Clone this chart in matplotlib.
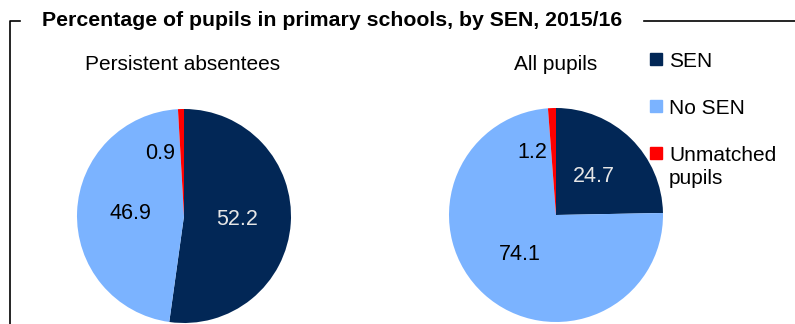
import matplotlib
matplotlib.use('Agg')
import matplotlib.pyplot as plt
from matplotlib.lines import Line2D
from matplotlib.patches import Rectangle
import numpy as np

plt.rcParams['font.family'] = ['Liberation Sans', 'DejaVu Sans']

# shares of pupils by SEN status (%)
categories = ['SEN', 'No SEN', 'Unmatched\npupils']
groups = ['Persistent absentees', 'All pupils']
absentees = [52.2, 46.9, 0.9]
all_pupils = [24.7, 74.1, 1.2]
colours = ['#022756', '#7BB3FF', '#FF0000']
label_colours = ['#E6E6E6', 'black', 'black']

W, H = 795, 324
fig = plt.figure(figsize=(W / 100, H / 100), dpi=100)


def px_axes(cx, cy, r):
    # square axes centred at pixel (cx, cy) with radius r
    return fig.add_axes([(cx - r) / W, 1 - (cy + r) / H, 2 * r / W, 2 * r / H])


def draw_pie(ax, values, subtitle, cx):
    wedges, texts, autotexts = ax.pie(
        values, colors=colours, startangle=90, counterclock=False,
        autopct=lambda p: '', pctdistance=0.5, radius=1.0,
        wedgeprops=dict(linewidth=0))
    ax.set_xlim(-1, 1)
    ax.set_ylim(-1, 1)
    ax.set_aspect('equal')
    for v, t, c in zip(values, autotexts, label_colours):
        t.set_text(f'{v:.1f}')
        t.set_color(c)
        t.set_fontsize(15.5)
    # the small slice label sits up and left of its wedge
    ang = np.deg2rad(111)
    autotexts[2].set_position((0.63 * np.cos(ang), 0.63 * np.sin(ang)))
    fig.text(cx / W, 1 - 65 / H, subtitle, ha='center', va='center', fontsize=15)
    return wedges


ax1 = px_axes(184, 216, 107)
wedges = draw_pie(ax1, absentees, groups[0], 183)
ax2 = px_axes(556, 215, 107)
draw_pie(ax2, all_pupils, groups[1], 556)

# title with bracket rule
fig.text(42 / W, 1 - 20 / H, 'Percentage of pupils in primary schools, by SEN, 2015/16',
         ha='left', va='center', fontsize=15.3, fontweight='bold')
fig.add_artist(Line2D([644 / W, 1.0], [1 - 21 / H] * 2, color='black', lw=1.2))
fig.add_artist(Line2D([10 / W, 10 / W, 20 / W], [0, 1 - 21 / H, 1 - 21 / H],
                      color='black', lw=1.2))

# legend
for name, col, y in zip(categories, colours, [59, 106, 153]):
    fig.add_artist(Rectangle((650 / W, 1 - (y + 6) / H), 12 / W, 12 / H,
                             color=col, transform=fig.transFigure))
    fig.text(669 / W, 1 - (y - 7) / H, name, ha='left', va='top', fontsize=15,
             linespacing=1.25)

fig.savefig('out.png', dpi=100)
